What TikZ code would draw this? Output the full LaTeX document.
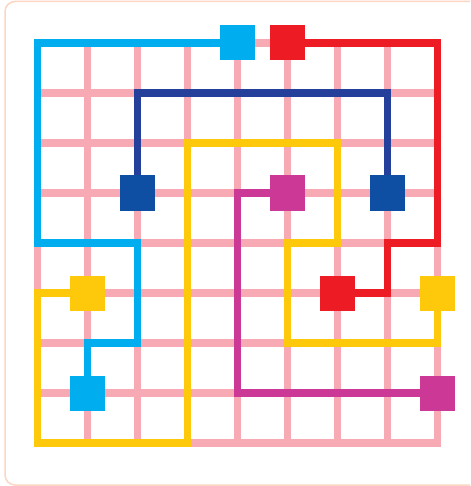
\documentclass[tikz,border=0pt]{standalone}
\usetikzlibrary{backgrounds}
\definecolor{gridpink}{HTML}{F7A9B4}
\definecolor{pcyan}{HTML}{00AEEF}
\definecolor{pred}{HTML}{ED1C24}
\definecolor{pdblue}{HTML}{25409A}
\definecolor{sqdblue}{HTML}{0E4EA3}
\definecolor{pmag}{HTML}{CC3896}
\definecolor{pyellow}{HTML}{FFC90B}
\definecolor{frame}{HTML}{FCD5C3}
\begin{document}
\begin{tikzpicture}[x=1pt,y=-1pt,
  gridline/.style={draw=gridpink,line width=7.5pt},
  pathline/.style={line width=7.5pt,line join=miter},
  sq/.style={rectangle,minimum size=35pt,inner sep=0pt,outer sep=0pt}]
\useasboundingbox (0,0) rectangle (470,486);
\clip (0,0) rectangle (470,486);
\draw[frame,line width=1.5pt,rounded corners=10pt] (5,1.5) rectangle (490,485);
% grid coordinates
\foreach \c in {0,...,8}{\foreach \r in {0,...,8}{
  \coordinate (g\c-\r) at ({37.5+50*\c},{43+50*\r});}}
% pink grid
\foreach \k in {1,...,7}{
  \draw[gridline] (g\k-0) -- (g\k-8);
  \draw[gridline] (g0-\k) -- (g8-\k);}
\draw[gridline,line join=miter] (g0-0) rectangle (g8-8);
% squares
\node[sq,fill=pcyan] (cyA) at (g4-0) {};
\node[sq,fill=pcyan] (cyB) at (g1-7) {};
\node[sq,fill=pred] (rdA) at (g5-0) {};
\node[sq,fill=pred] (rdB) at (g6-5) {};
\node[sq,fill=sqdblue] (dbA) at (g2-3) {};
\node[sq,fill=sqdblue] (dbB) at (g7-3) {};
\node[sq,fill=pmag] (mgA) at (g5-3) {};
\node[sq,fill=pmag] (mgB) at (g8-7) {};
\node[sq,fill=pyellow] (ylA) at (g1-5) {};
\node[sq,fill=pyellow] (ylB) at (g8-5) {};
% paths
\begin{scope}[on background layer]
\end{scope}
\draw[pathline,pcyan] (cyA.center) -- (g0-0) -- (g0-4) -- (g2-4) -- (g2-6) -- (g1-6) -- (cyB.center);
\draw[pathline,pred] (rdA.center) -- (g8-0) -- (g8-4) -- (g7-4) -- (g7-5) -- (rdB.center);
\draw[pathline,pdblue] (dbA.center) -- (g2-1) -- (g7-1) -- (dbB.center);
\draw[pathline,pmag] (mgA.center) -- (g4-3) -- (g4-7) -- (mgB.center);
\draw[pathline,pyellow] (ylA.center) -- (g0-5) -- (g0-8) -- (g3-8) -- (g3-2) -- (g6-2) -- (g6-4) -- (g5-4) -- (g5-6) -- (g8-6) -- (ylB.center);
% redraw squares on top
\foreach \n/\col in {cyA/pcyan,cyB/pcyan,rdA/pred,rdB/pred,dbA/sqdblue,dbB/sqdblue,mgA/pmag,mgB/pmag,ylA/pyellow,ylB/pyellow}{
  \fill[\col] (\n.south west) rectangle (\n.north east);}
\end{tikzpicture}
\end{document}
